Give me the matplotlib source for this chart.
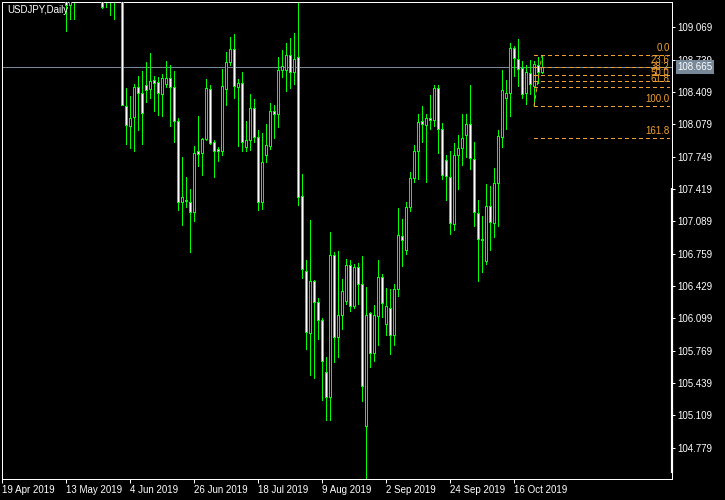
import matplotlib
matplotlib.use('Agg')
import matplotlib.pyplot as plt
import numpy as np
import pandas as pd

plt.rcParams['font.family'] = ['Liberation Sans', 'DejaVu Sans']

symbol_title = "USDJPY,Daily"

opens = [111.93, 111.92, 111.93, 111.85, 112.20, 111.62, 111.52, 111.62, 111.42, 111.48,
         111.51, 110.80, 110.70, 110.24, 110.06, 109.72, 109.95, 109.30, 109.58, 109.61,
         109.86, 110.08, 110.05, 110.48, 110.36, 109.60, 109.36, 109.50, 109.40, 109.60,
         109.62, 108.27, 108.06, 108.15, 108.46, 108.40, 108.48, 108.44, 108.53, 108.51,
         108.39, 108.49, 108.55, 108.46, 108.11, 107.29, 107.31, 107.29, 107.18, 107.81,
         107.79, 107.93, 108.44, 107.90, 107.83, 107.81, 108.44, 108.72, 108.85, 108.46,
         108.50, 107.85, 107.92, 108.25, 107.95, 107.29, 107.77, 107.86, 108.22, 108.18,
         108.63, 108.63, 108.79, 108.61, 108.77, 107.35, 106.58, 105.95, 106.48, 106.27,
         106.08, 105.55, 105.30, 106.75, 105.91, 106.13, 106.28, 106.64, 106.23, 106.62,
         106.45, 105.00, 106.15, 105.75, 106.12, 106.52, 106.04, 106.21, 105.93, 106.40,
         106.94, 106.80, 107.24, 107.53, 107.81, 108.11, 108.07, 108.14, 108.12, 108.45,
         108.03, 107.72, 107.54, 107.06, 107.77, 107.84, 107.97, 108.08, 107.73, 107.17,
         106.90, 106.68, 107.25, 107.07, 107.48, 107.95, 108.35, 108.40, 108.86, 108.75,
         108.65, 108.40, 108.60, 108.47, 108.69, 108.61]
highs = [111.98, 112.00, 112.03, 112.40, 112.22, 111.71, 111.70, 111.67, 111.70, 111.65,
         111.69, 111.06, 110.80, 110.30, 110.10, 110.05, 110.00, 109.64, 109.80, 109.95,
         110.12, 110.20, 110.66, 110.58, 110.40, 109.70, 109.60, 109.62, 109.72, 109.90,
         109.72, 108.45, 108.37, 108.49, 108.57, 108.62, 108.72, 108.81, 108.57, 108.56,
         108.59, 108.73, 108.69, 108.62, 108.14, 107.75, 107.54, 107.42, 107.86, 108.16,
         107.94, 108.54, 108.48, 107.92, 107.85, 108.64, 108.82, 108.97, 109.00, 108.54,
         108.61, 108.11, 108.39, 108.34, 108.02, 107.99, 108.08, 108.30, 108.28, 108.77,
         108.84, 108.91, 108.96, 109.01, 109.32, 107.57, 106.69, 107.10, 106.49, 106.31,
         106.10, 105.71, 106.98, 106.78, 106.79, 106.50, 106.71, 106.70, 106.65, 106.66,
         106.74, 106.42, 106.16, 106.24, 106.70, 106.55, 106.41, 106.40, 106.45, 107.23,
         107.11, 107.29, 107.59, 107.87, 108.19, 108.27, 108.18, 108.38, 108.48, 108.48,
         108.09, 107.77, 107.81, 107.89, 107.97, 108.19, 108.19, 108.48, 107.90, 107.31,
         107.14, 107.47, 107.45, 107.63, 108.02, 108.63, 108.53, 108.91, 108.88, 108.95,
         108.73, 108.68, 108.74, 108.73, 108.77, 108.787]
lows = [111.84, 111.82, 111.78, 111.85, 111.56, 111.36, 111.40, 111.32, 111.32, 111.35,
        110.97, 110.28, 110.08, 109.94, 109.47, 109.60, 109.03, 109.15, 109.15, 109.50,
        109.73, 109.90, 109.96, 110.22, 109.42, 109.27, 109.28, 109.20, 109.15, 109.40,
        108.28, 107.88, 107.84, 107.81, 108.02, 107.88, 108.31, 108.35, 108.22, 108.17,
        108.16, 108.46, 108.06, 107.90, 107.21, 107.05, 107.24, 106.78, 107.09, 107.65,
        107.56, 107.92, 107.88, 107.54, 107.71, 107.77, 108.28, 108.68, 108.35, 107.86,
        107.81, 107.81, 107.82, 107.90, 107.21, 107.22, 107.70, 107.83, 107.94, 108.05,
        108.56, 108.42, 108.45, 108.49, 107.26, 106.51, 105.79, 105.52, 105.49, 105.89,
        105.27, 105.06, 105.06, 105.65, 105.71, 105.99, 106.25, 106.17, 106.21, 106.25,
        105.26, 104.47, 105.60, 105.66, 105.83, 106.11, 105.93, 105.74, 105.83, 106.33,
        106.63, 106.76, 107.19, 107.49, 107.52, 107.90, 107.49, 108.03, 108.06, 107.79,
        107.52, 107.31, 106.96, 107.00, 107.42, 107.66, 107.75, 107.62, 107.04, 106.48,
        106.57, 106.65, 106.80, 106.93, 107.04, 107.85, 108.03, 108.16, 108.57, 108.47,
        108.35, 108.29, 108.39, 108.266, 108.50, 108.60]
closes = [111.92, 111.93, 111.85, 112.20, 111.62, 111.52, 111.62, 111.42, 111.48, 111.51,
          111.10, 110.70, 110.24, 110.06, 109.72, 109.95, 109.30, 109.58, 109.61, 109.86,
          110.08, 110.05, 110.48, 110.36, 109.60, 109.28, 109.50, 109.40, 109.60, 109.62,
          108.28, 108.07, 108.14, 108.46, 108.40, 108.20, 108.43, 108.52, 108.50, 108.40,
          108.55, 108.55, 108.46, 108.11, 107.29, 107.34, 107.30, 107.18, 107.79, 107.78,
          107.93, 108.45, 107.89, 107.81, 107.81, 108.47, 108.72, 108.85, 108.47, 108.50,
          107.90, 107.92, 108.25, 107.95, 107.29, 107.70, 107.87, 108.22, 108.18, 108.63,
          108.67, 108.79, 108.61, 108.75, 107.34, 106.60, 105.96, 106.48, 106.27, 106.08,
          105.66, 105.30, 106.75, 105.91, 106.13, 106.38, 106.64, 106.23, 106.62, 106.45,
          105.41, 106.13, 105.75, 106.13, 106.52, 106.26, 106.23, 105.93, 106.40, 106.95,
          106.90, 107.24, 107.53, 107.81, 108.10, 108.08, 108.14, 108.12, 108.45, 108.03,
          107.56, 107.55, 107.07, 107.77, 107.84, 107.94, 108.08, 107.74, 107.18, 106.91,
          106.91, 107.25, 107.08, 107.48, 107.96, 108.43, 108.40, 108.86, 108.76, 108.64,
          108.39, 108.61, 108.49, 108.70, 108.61, 108.665]

dates = pd.bdate_range('2019-04-19', periods=len(opens))
date_tick_every = 16
date_tick_labels = ["19 Apr 2019", "13 May 2019", "4 Jun 2019", "26 Jun 2019", "18 Jul 2019",
                    "9 Aug 2019", "2 Sep 2019", "24 Sep 2019", "16 Oct 2019"]
price_ticks = [109.069, 108.739, 108.409, 108.079, 107.749, 107.419, 107.089, 106.759,
               106.429, 106.099, 105.769, 105.439, 105.109, 104.779]

fib_levels = [0.0, 23.6, 38.2, 50.0, 61.8, 100.0, 161.8]
fib_high = 108.787
fib_low = 108.266
fib_low_bar = 133
fib_high_bar = 135
current_price = closes[-1]

GREEN = '#00FF00'
FIB = '#F0A030'
SLATE = '#778899'
PX = 0.72  # one pixel in points at 100 dpi

W, H = 725, 500
fig = plt.figure(figsize=(W / 100, H / 100), dpi=100, facecolor='black')
ax = fig.add_axes([2 / W, 21 / H, 670 / W, 477 / H], facecolor='black')

o = np.array(opens); h = np.array(highs); l = np.array(lows); c = np.array(closes)
x = np.arange(len(o))
bull = c >= o

ax.vlines(x, l, h, color=GREEN, lw=PX, antialiased=False, zorder=2)
ax.bar(x, np.abs(c - o), bottom=np.minimum(o, c), width=0.5,
       color=np.where(bull, 'black', 'white'), edgecolor=GREEN, linewidth=PX,
       antialiased=False, zorder=3)

ax.set_xlim(0, 167.5)
ax.set_ylim(104.460, 109.328)

# current price line
ax.axhline(current_price, color=SLATE, lw=PX, zorder=1)

# Fibonacci
ax.plot([fib_low_bar, fib_high_bar], [fib_low, fib_high], color=FIB, lw=PX,
        dashes=(4, 3), zorder=4)
for lv in fib_levels:
    price = fib_high - (fib_high - fib_low) * lv / 100.0
    ax.plot([fib_low_bar, 166.75], [price, price], color=FIB, lw=PX, dashes=(4, 3),
            antialiased=False, zorder=4)
    ax.annotate(f'{lv:.1f}', xy=(166.9, price), xytext=(0, 1.5), textcoords='offset points',
                ha='right', va='bottom', color=FIB, fontsize=7, zorder=5)

# spines
for s in ax.spines.values():
    s.set_color('white')
    s.set_linewidth(PX)

ax.yaxis.tick_right()
ax.set_yticks(price_ticks)
ax.set_yticklabels([f'{p:.3f}' for p in price_ticks])
ax.tick_params(axis='y', which='both', direction='out', length=3 * PX, width=PX,
               colors='white', labelsize=7, pad=1.5, left=False, right=True)

tick_pos = x[::date_tick_every][:len(date_tick_labels)]
ax.set_xticks(tick_pos)
ax.set_xticklabels(date_tick_labels)
ax.tick_params(axis='x', direction='out', length=4 * PX, width=PX, colors='white',
               labelsize=7, pad=1.5, top=False)
for lab in ax.get_xticklabels():
    lab.set_horizontalalignment('left')

# current price box
ax.annotate(f'{current_price:.3f}', xy=(1, current_price), xycoords=('axes fraction', 'data'),
            xytext=(4, 0), textcoords='offset points', ha='left', va='center',
            color='white', fontsize=7, zorder=10, annotation_clip=False,
            bbox=dict(boxstyle='square,pad=0.18', facecolor=SLATE, edgecolor='none'))

# thick marker on right scale
ax.plot([1.0, 1.0], [6 / 477, 291 / 477], transform=ax.transAxes, color='white',
        lw=2.2 * PX, clip_on=False, zorder=6, solid_capstyle='butt')

fig.text(7 / W, 1 - 10 / H, symbol_title, color='white', fontsize=7, ha='left', va='center')

fig.savefig('out.png', dpi=100, facecolor='black')
